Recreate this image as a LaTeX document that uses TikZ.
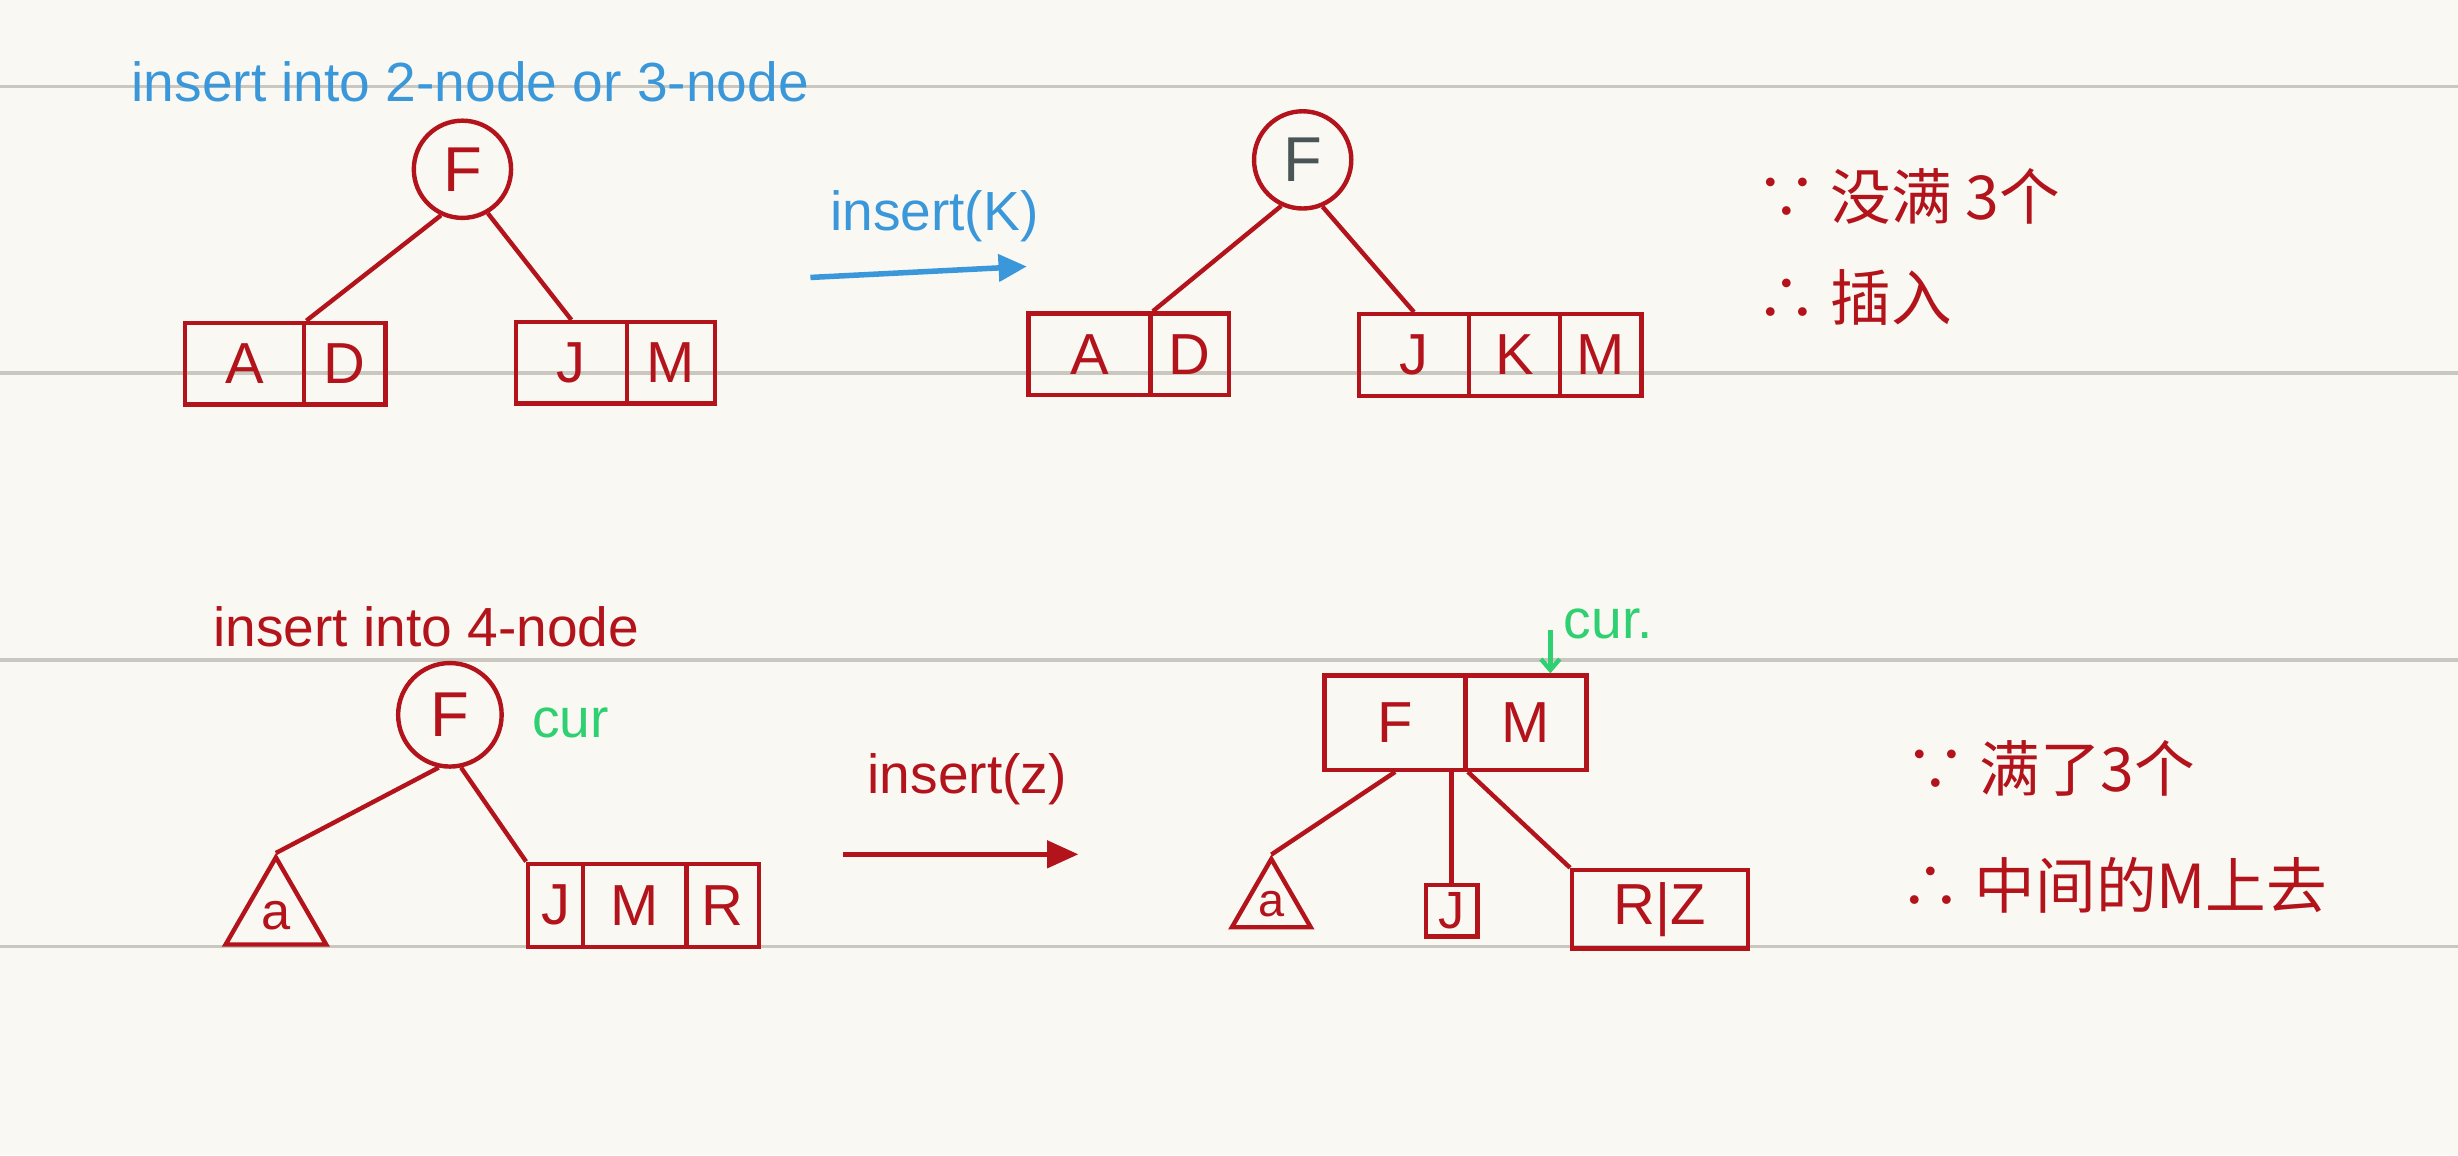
\documentclass[tikz,border=0pt]{standalone}
\usepackage{fontspec}
\setmainfont{Liberation Sans}
\newfontfamily\cjk{Noto Sans CJK SC}
\usetikzlibrary{shapes.geometric,arrows.meta}
\definecolor{inkred}{HTML}{B3141C}
\definecolor{inkblue}{HTML}{3A98DA}
\definecolor{inkgreen}{HTML}{2FD071}
\definecolor{inkgray}{HTML}{4A5556}
\definecolor{ruleline}{HTML}{CAC7C1}
\definecolor{paper}{HTML}{FAF8F3}

\begin{document}
\begin{tikzpicture}[x=0.01cm, y=-0.01cm,
        key/.style={circle, draw=inkred, line width=0.8pt, minimum size=0.62cm, inner sep=0pt, text=inkred, font=\fontsize{11.5}{11.5}\selectfont},
        cell/.style={rectangle, draw=inkred, line width=0.8pt, minimum height=0.52cm, inner sep=0pt, text=inkred, font=\fontsize{10.5}{10.5}\selectfont},
        subtree/.style={regular polygon, regular polygon sides=3, draw=inkred, line width=0.8pt, inner sep=0pt, text=inkred, font=\fontsize{9.5}{9.5}\selectfont},
        link/.style={draw=inkred, line width=0.8pt},
        note/.style={font=\fontsize{10}{10}\selectfont},
        cnnote/.style={anchor=west, text=inkred, font=\cjk\fontsize{11}{11}\selectfont},
        curlabel/.style={text=inkgreen, font=\fontsize{10}{10}\selectfont}
    ]
        % Paper and ruled lines
        \fill[paper] (0,0) rectangle (1568,737);
        \useasboundingbox (0,0) rectangle (1568,737);
        \foreach \y in {55,238,421,604}
            \draw[ruleline, line width=0.6pt] (0,\y) -- (1568,\y);

        % Insert into a 2-node or 3-node
        \node[note, text=inkblue] (title1) at (300,52) {insert into 2-node or 3-node};
        \node[key] (f1) at (295,108) {F};
        \node[cell, minimum width=0.76cm] (ad1) at (156,232) {A};
        \node[cell, minimum width=0.52cm] (ad2) at (220,232) {D};
        \node[cell, minimum width=0.71cm] (jm1) at (364.5,231.5) {J};
        \node[cell, minimum width=0.56cm] (jm2) at (428,231.5) {M};
        \draw[link] (f1.245) -- (ad1.north east);
        \draw[link] (f1.300) -- (jm1.north);

        % insert(K)
        \node[note, text=inkblue] (insk) at (596,138) {insert(K)};
        \coordinate (k0) at (517,177);
        \coordinate (k1) at (655,170);
        \draw[inkblue, line width=1pt, -{Triangle[length=0.18cm, width=0.17cm]}] (k0) -- (k1);

        \node[key, text=inkgray] (f2) at (831,102) {F};
        \node[cell, minimum width=0.78cm] (adk1) at (695,226) {A};
        \node[cell, minimum width=0.50cm] (adk2) at (759,226) {D};
        \node[cell, minimum width=0.70cm] (jkm1) at (902,226.5) {J};
        \node[cell, minimum width=0.58cm] (jkm2) at (966,226.5) {K};
        \node[cell, minimum width=0.52cm] (jkm3) at (1021,226.5) {M};
        \draw[link] (f2.245) -- (adk1.north east);
        \draw[link] (f2.293) -- (jkm1.north);

        \node[cnnote] (why1) at (1108,125) {∵ 没满 3个};
        \node[cnnote] (so1) at (1108,190) {∴ 插入};

        % Insert into a 4-node
        \node[note, text=inkred] (title2) at (272,400) {insert into 4-node};
        \node[key, minimum size=0.66cm] (f3) at (287,456) {F};
        \node[curlabel] (cur1) at (364,461) {cur};
        \node[subtree, minimum size=0.74cm] (a1) at (176,584) {a};
        \node[cell, minimum width=0.35cm, minimum height=0.53cm] (jmr1) at (354.5,577.5) {J};
        \node[cell, minimum width=0.66cm, minimum height=0.53cm] (jmr2) at (405,577.5) {M};
        \node[cell, minimum width=0.46cm, minimum height=0.53cm] (jmr3) at (461,577.5) {R};
        \draw[link] (f3.258) -- (a1.corner 1);
        \draw[link] (f3.282) -- (jmr1.north west);

        % insert(z)
        \node[note, text=inkred] (insz) at (617,497) {insert(z)};
        \coordinate (z0) at (538,545);
        \coordinate (z1) at (688,545);
        \draw[inkred, line width=1pt, -{Triangle[length=0.2cm, width=0.17cm]}] (z0) -- (z1);

        \node[cell, minimum width=0.90cm, minimum height=0.60cm] (fm1) at (890,461) {F};
        \node[cell, minimum width=0.77cm, minimum height=0.60cm] (fm2) at (973.5,461) {M};
        \node[curlabel] (cur2) at (1026,398) {cur.};
        \coordinate (cur2tail) at (989,402);
        \draw[inkgreen, line width=0.8pt, -{Straight Barb[length=0.07cm, width=0.12cm]}] (cur2tail) -- (cur2tail |- fm2.north);
        \node[subtree, minimum size=0.58cm, font=\fontsize{8.5}{8.5}\selectfont] (a2) at (811,577) {a};
        \node[cell, minimum size=0.33cm, font=\fontsize{9.5}{9.5}\selectfont] (j2) at (926,581) {J};
        \node[cell, minimum width=1.12cm, minimum height=0.50cm] (rz) at (1059,580) {R|Z};
        \draw[link] (fm1.south) -- (a2.corner 1);
        \draw[link] (j2.north |- fm1.south) -- (j2.north);
        \draw[link] (fm1.south east) -- (rz.north west);

        \node[cnnote] (why2) at (1203,490) {∵ 满了3个};
        \node[cnnote] (so2) at (1200,565) {∴ 中间的M上去};
    \end{tikzpicture}
\end{document}
